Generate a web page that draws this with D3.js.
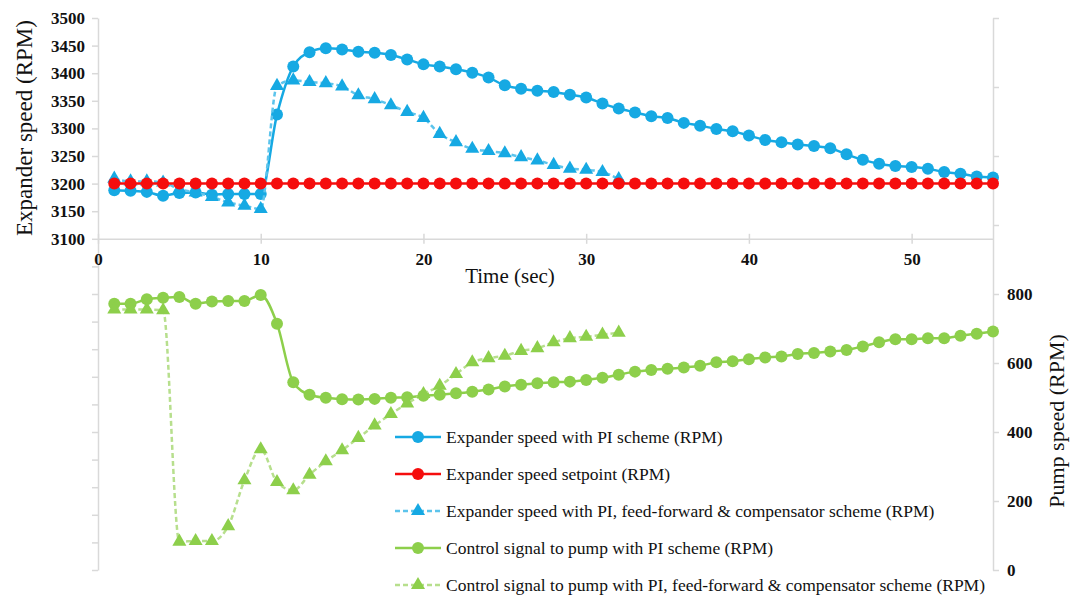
<!DOCTYPE html>
<html>
<head>
<meta charset="utf-8">
<script src="https://cdn.jsdelivr.net/npm/d3@7"></script>
<style>
  html, body { margin: 0; padding: 0; background: #fff; }
  svg, svg text { font-family: "Liberation Serif", "Tinos", "Times New Roman", Times, "DejaVu Serif", serif; }
</style>
</head>
<body>
<div id="chart"></div>
<script>
// Zeitachse (s) und Messreihen
const timeAll = d3.range(1, 56);   // 1..55 s
const timeFF  = d3.range(1, 33);   // 1..32 s

const expanderPI = [3188, 3187, 3185, 3178, 3183, 3184, 3180, 3181, 3181, 3181,
  3325, 3412, 3438, 3445, 3443, 3439, 3437, 3433, 3425, 3416,
  3412, 3407, 3401, 3392, 3378, 3372, 3368, 3366, 3361, 3356,
  3345, 3336, 3329, 3322, 3319, 3310, 3305, 3299, 3295, 3287,
  3279, 3275, 3271, 3268, 3264, 3253, 3243, 3236, 3232, 3230,
  3227, 3221, 3218, 3213, 3211];

const setpoint = timeAll.map(() => 3200);

const expanderFF = [3209, 3204, 3204, 3202, 3190, 3184, 3176, 3166, 3160, 3154,
  3377, 3387, 3384, 3382, 3376, 3360, 3353, 3342, 3330, 3319,
  3290, 3275, 3263, 3259, 3255, 3248, 3242, 3234, 3227, 3225,
  3221, 3208];

const pumpPI = [772, 772, 785, 789, 791, 772, 778, 780, 780, 797,
  714, 544, 508, 499, 495, 494, 496, 499, 501, 505,
  508, 512, 517, 523, 532, 537, 541, 544, 546, 551,
  557, 566, 575, 580, 583, 587, 592, 602, 605, 611,
  616, 619, 626, 629, 633, 638, 648, 660, 669, 669,
  672, 672, 679, 685, 691];

const pumpFF = [755, 755, 755, 753, 82, 84, 84, 127, 260, 350,
  255, 231, 276, 315, 347, 383, 419, 452, 483, 510,
  534, 568, 602, 614, 621, 635, 643, 660, 672, 676,
  682, 688];

const xTicks = [0, 10, 20, 30, 40, 50];
const leftTicks = d3.range(2500, 3501, 50);
const leftLabels = [3100, 3150, 3200, 3250, 3300, 3350, 3400, 3450, 3500];
const rightTicks = d3.range(0, 1601, 200);
const rightLabels = [0, 200, 400, 600, 800];

const legendNames = [
  "Expander speed with PI scheme (RPM)",
  "Expander speed setpoint (RPM)",
  "Expander speed with PI, feed-forward & compensator scheme (RPM)",
  "Control signal to pump with PI scheme (RPM)",
  "Control signal to pump with PI, feed-forward & compensator scheme (RPM)"
];

// Layout
const W = 1070, H = 596;
const X0 = 98, X1 = 993, YT = 18, YB = 570;
const AX = "#d9d9d9";
const FONT = "'Liberation Serif', Tinos, 'Times New Roman', Times, 'DejaVu Serif', serif";
const cBlue = "#16a9e3", cBlueD = "#5cc4ec", cRed = "#f50d0d", cGreen = "#8dcf4b", cGreenD = "#b7df8d";

const svg = d3.select("#chart").append("svg").attr("width", W).attr("height", H)
  .attr("font-family", FONT);

const x  = d3.scaleLinear().domain([0, 55]).range([X0, X1]);
const yL = d3.scaleLinear().domain([2500, 3500]).range([YB, YT]);
const yR = d3.scaleLinear().domain([0, 1600]).range([YB, YT]);

// Linke Achse
const gL = svg.append("g").attr("transform", `translate(${X0},0)`)
  .call(d3.axisLeft(yL).tickValues(leftTicks).tickSize(6).tickSizeOuter(0)
    .tickFormat(d => leftLabels.includes(d) ? d : ""));
// Rechte Achse
const gR = svg.append("g").attr("transform", `translate(${X1},0)`)
  .call(d3.axisRight(yR).tickValues(rightTicks).tickSize(6).tickSizeOuter(0)
    .tickFormat(d => rightLabels.includes(d) ? d : ""));
// x-Achse bei 3100
const yX = yL(3100);
const gX = svg.append("g").attr("transform", `translate(0,${yX})`)
  .call(d3.axisBottom(x).tickValues(xTicks).tickSize(5).tickSizeOuter(0).tickPadding(9));
gX.selectAll(".tick line").attr("y1", -5);

[gL, gR, gX].forEach(g => {
  g.attr("font-family", FONT);
  g.select(".domain").attr("stroke", AX).attr("stroke-width", 1.5);
  g.selectAll(".tick line").attr("stroke", AX).attr("stroke-width", 1.5);
  g.selectAll(".tick text").attr("fill", "#111").attr("font-size", 17).attr("font-weight", 700)
    .attr("font-family", FONT);
});
gL.selectAll(".tick text").attr("x", -13);
gR.selectAll(".tick text").attr("x", 14);

// Achsentitel
svg.append("text").attr("transform", `translate(32,128) rotate(-90)`)
  .attr("text-anchor", "middle").attr("font-size", 23).attr("fill", "#111")
  .text("Expander speed (RPM)");
svg.append("text").attr("transform", `translate(1064,421) rotate(-90)`)
  .attr("text-anchor", "middle").attr("font-size", 22).attr("fill", "#111")
  .text("Pump speed (RPM)");
svg.append("text").attr("x", 510).attr("y", 283)
  .attr("text-anchor", "middle").attr("font-size", 21).attr("fill", "#111")
  .text("Time (sec)");

// Reihen
const series = [
  { t: timeAll, v: expanderPI, y: yL, line: cBlue,  fill: cBlue,  dash: null,  mark: "circle" },
  { t: timeFF,  v: expanderFF, y: yL, line: cBlueD, fill: cBlue,  dash: "5,3", mark: "tri" },
  { t: timeAll, v: setpoint,   y: yL, line: cRed,   fill: cRed,   dash: null,  mark: "circle" },
  { t: timeAll, v: pumpPI,     y: yR, line: cGreen, fill: cGreen, dash: null,  mark: "circle" },
  { t: timeFF,  v: pumpFF,     y: yR, line: cGreenD, fill: cGreen, dash: "5,3", mark: "tri" }
];
const legendOrder = [0, 2, 1, 3, 4];

const tri = d3.symbol().type(d3.symbolTriangle).size(85);

function drawMarker(g, s, cx, cy) {
  if (s.mark === "circle") {
    g.append("circle").attr("cx", cx).attr("cy", cy).attr("r", 6).attr("fill", s.fill);
  } else {
    g.append("path").attr("d", tri).attr("transform", `translate(${cx},${cy})`).attr("fill", s.fill);
  }
}

const plot = svg.append("g");
[3, 4, 0, 1, 2].forEach(i => {
  const s = series[i];
  const pts = s.t.map((t, k) => [x(t), s.y(s.v[k])]);
  const g = plot.append("g");
  g.append("path").datum(pts)
    .attr("d", d3.line().curve(d3.curveMonotoneX))
    .attr("fill", "none").attr("stroke", s.line).attr("stroke-width", 2.5)
    .attr("stroke-dasharray", s.dash);
  pts.forEach(p => drawMarker(g, s, p[0], p[1]));
});

// Legende
const lg = svg.append("g");
legendOrder.forEach((si, r) => {
  const s = series[si];
  const cy = 437 + r * 37;
  lg.append("line").attr("x1", 395).attr("x2", 441).attr("y1", cy).attr("y2", cy)
    .attr("stroke", s.line).attr("stroke-width", 2.5).attr("stroke-dasharray", s.dash);
  drawMarker(lg, s, 418, cy);
  lg.append("text").attr("x", 446).attr("y", cy).attr("dy", "0.35em")
    .attr("font-size", 17.5).attr("fill", "#111").text(legendNames[r]);
});
</script>
</body>
</html>
